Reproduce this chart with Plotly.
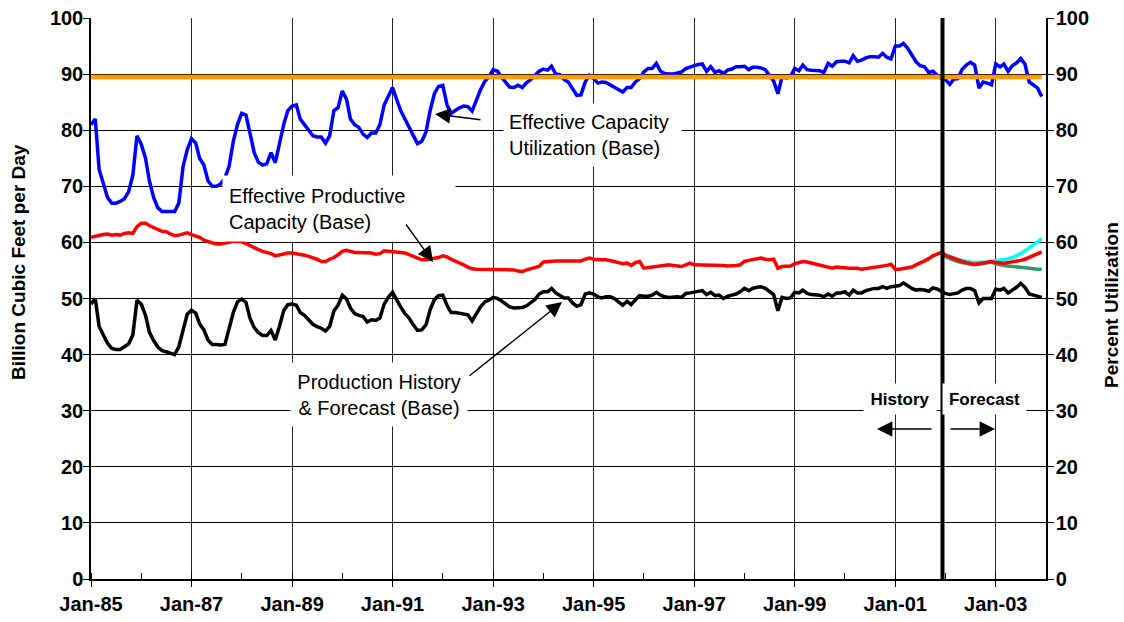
import pandas as pd
import plotly.graph_objects as go

months = pd.date_range("1985-01-01", periods=228, freq="MS")

utilization = [
    81, 82, 73, 70.5, 68, 67, 67, 67.3, 67.8, 69, 72, 79, 77.5, 75, 71, 68, 66.2, 65.5, 65.5, 65.5,
    65.5, 67, 73.5, 76.5, 78.5, 77.7, 75, 73.8, 71, 70, 70, 70.4, 71.5, 73.5, 78, 81, 83, 82.7, 79.5, 76,
    74.3, 73.8, 74, 76, 74.2, 77.5, 81, 83.5, 84.3, 84.5, 82, 81, 80, 79, 78.8, 78.8, 77.7, 79, 83.5, 84,
    87, 85.5, 82, 81, 80.5, 79.3, 78.7, 79.5, 79.5, 81, 84.5, 86, 87.6, 85.4, 83.5, 82, 80.5, 79, 77.6, 78,
    79.7, 83.5, 86.5, 87.8, 88, 84.5, 83, 83.5, 84, 84.3, 84.2, 83.4, 85.5, 87.2, 88.7, 89.5, 90.8, 90.5, 89.5, 88.5,
    87.7, 87.6, 88, 87.6, 88.5, 89, 89.8, 90.5, 90.9, 90.7, 91.4, 90, 89.9, 89, 88.6, 87.5, 86.2, 86.3, 88.6, 89.8,
    89.2, 88.4, 88.6, 88.5, 88.1, 87.7, 87.2, 86.8, 87.6, 87.6, 88.6, 89.2, 90.4, 91, 91, 91.9, 90.5, 90.1, 90, 90,
    90.2, 90.4, 91, 91.3, 91.5, 91.7, 91.8, 90.5, 91.3, 90.3, 90.6, 90.1, 90.7, 90.9, 91.3, 91.3, 91.4, 90.8, 91.2, 91.2,
    91.1, 90.8, 89.9, 88.8, 86.5, 89.5, 89.3, 89.5, 91, 90.6, 91.6, 90.8, 90.7, 90.7, 90.6, 90.3, 91.9, 91.4, 92.2, 92.3,
    92.3, 92, 93.3, 92.3, 92.5, 92.9, 93.1, 93.1, 93, 93.7, 93, 92.7, 95, 95, 95.5, 94.6, 93.4, 92.2, 91.5, 91.3,
    90.3, 90.5, 89.8, 89.2, 89, 88.2, 89.1, 89.2, 90.8, 91.6, 92.1, 91.6, 87.5, 88.6, 88.4, 88.1, 91.8, 91.3, 91.8, 90.5,
    91.5, 92, 92.8, 91.8, 88.6, 88, 87.5, 86,
]

target_utilization = [89.5] * 228

capacity = [
    60.9, 61.1, 61.3, 61.4, 61.5, 61.3, 61.4, 61.3, 61.6, 61.7, 61.6, 62.8, 63.4, 63.4, 63, 62.6, 62.3, 62, 61.9, 61.5,
    61.2, 61.3, 61.5, 61.7, 61.4, 61.2, 60.9, 60.4, 60.2, 60, 59.7, 59.7, 59.8, 60, 60.2, 60.2, 60.1, 59.8, 59.4, 59,
    58.7, 58.4, 58.2, 58, 57.6, 57.8, 57.9, 58.1, 58.1, 58, 57.9, 57.7, 57.5, 57.3, 57, 56.6, 56.6, 57, 57.3, 57.8,
    58.4, 58.6, 58.4, 58.2, 58.2, 58.2, 58.1, 58.1, 57.9, 58, 58.5, 58.4, 58.3, 58.3, 58.2, 58.1, 57.8, 57.5, 57.1, 56.9,
    56.9, 57, 57.1, 57.3, 57.6, 57.4, 57, 56.7, 56.4, 56, 55.6, 55.3, 55.2, 55.2, 55.2, 55.2, 55.2, 55.2, 55.2, 55.2,
    55.2, 55.1, 54.9, 54.8, 55.1, 55.3, 55.4, 55.7, 56.5, 56.6, 56.7, 56.7, 56.7, 56.7, 56.7, 56.6, 56.6, 56.7, 57, 57.2,
    57, 56.9, 56.9, 56.9, 56.8, 56.6, 56.4, 56.2, 56.3, 55.9, 56.4, 56.6, 55.4, 55.5, 55.6, 55.7, 55.8, 55.9, 56, 55.9,
    55.8, 55.7, 56, 56.3, 56, 56, 56, 56, 56, 56, 55.9, 55.9, 55.8, 55.8, 55.9, 56, 56.6, 56.8, 56.9, 57,
    57.2, 57, 56.9, 57, 55.4, 55.7, 55.8, 55.8, 56.2, 56.4, 56.6, 56.5, 56.3, 56.1, 56, 55.7, 55.5, 55.4, 55.6, 55.5,
    55.4, 55.4, 55.4, 55.4, 55.2, 55.3, 55.5, 55.6, 55.7, 55.8, 55.9, 56.1, 55.2, 55.2, 55.3, 55.4, 55.6, 56, 56.3, 56.7,
    57.1, 57.6, 57.9, 58.2, 57.7, 57.4, 57.1, 56.9, 56.6, 56.4, 56.3, 56.1, 56.2, 56.3, 56.4, 56.6, 56.4, 56.3, 56.3, 56.4,
    56.5, 56.6, 56.8, 57, 57.3, 57.6, 57.9, 58.3,
]

production = [
    49, 50, 45, 43.4, 42, 41.1, 40.9, 40.9, 41.4, 41.9, 43.5, 49.7, 49, 47, 44, 42.5, 41.4, 40.7, 40.5, 40.3,
    40, 41.4, 44.4, 47.2, 47.9, 47.4, 45.5, 44.4, 42.6, 41.8, 41.8, 41.7, 41.8, 44.8, 47.5, 49.4, 49.9, 49.3, 46.5, 44.8,
    43.9, 43.4, 43.4, 44.3, 42.6, 45, 47.8, 48.9, 49, 48.8, 47.5, 47, 46.3, 45.4, 45, 44.7, 44.2, 45, 47.8, 48.8,
    50.6, 49.9, 48.3, 47.3, 47, 46.8, 45.8, 46.2, 46.1, 46.5, 49, 50.2, 51.1, 49.6, 48.5, 47.3, 46.5, 45.3, 44.3, 44.4,
    45.3, 48, 49.8, 50.5, 50.6, 48.8, 47.5, 47.5, 47.4, 47.3, 47.1, 46, 47.3, 48.5, 49.4, 49.7, 50.2, 50, 49.6, 49,
    48.5, 48.3, 48.3, 48.4, 48.7, 49.2, 49.8, 50.8, 51.2, 51.2, 51.8, 51, 50.6, 50.1, 50.1, 49.2, 48.6, 48.9, 50.8, 51,
    50.8, 50.3, 50.1, 50.3, 50.3, 50, 49.4, 48.8, 49.5, 48.9, 49.8, 50.5, 50.4, 50.4, 50.6, 51.1, 50.6, 50.3, 50.2, 50.3,
    50.3, 50.2, 50.9, 51, 51.1, 51.2, 51.4, 50.7, 51.1, 50.5, 50.6, 50, 50.4, 50.6, 50.8, 51.2, 51.8, 51.4, 51.8, 52,
    52.1, 51.8, 51.3, 50.7, 47.8, 50.2, 50, 50.1, 51.1, 51, 51.5, 50.9, 50.7, 50.6, 50.6, 50.3, 50.8, 50.4, 51, 51,
    51.2, 50.6, 51.5, 51, 51, 51.4, 51.6, 51.8, 51.8, 52.1, 51.8, 52.1, 52.2, 52.3, 52.8, 52.3, 51.8, 51.5, 51.6, 51.5,
    51.3, 51.9, 51.7, 51.3, 50.9, 50.7, 50.9, 51, 51.5, 51.8, 51.8, 51.4, 49.2, 50, 50, 50, 51.7, 51.5, 51.8, 51,
    51.5, 52, 52.7, 52, 50.8, 50.6, 50.5, 50.2,
]

# forecast scenarios start Dec-01 (index 203)
high_capacity = [None] * 203 + [
    58.3, 57.8, 57.5, 57.2, 57, 56.8, 56.6, 56.5, 56.4, 56.4, 56.5, 56.5, 56.6, 56.7, 56.8, 56.9, 57.1, 57.3, 57.6, 58,
    58.5, 59, 59.6, 60.1, 60.7,
]
low_capacity = [None] * 203 + [
    58.1, 57.5, 57.1, 56.8, 56.6, 56.4, 56.2, 56.1, 56, 56.1, 56.2, 56.3, 56.5, 56.2, 56, 55.9, 55.8, 55.7, 55.6, 55.5,
    55.4, 55.3, 55.3, 55.2, 55.2,
]

divider_date = "2001-12-10"

FONT = "Arial, Liberation Sans, sans-serif"

fig = go.Figure()
fig.add_trace(go.Scatter(x=months, y=utilization, yaxis="y2", mode="lines",
                         line=dict(color="#0000FF", width=3.5), name="Utilization"))
fig.add_trace(go.Scatter(x=months, y=target_utilization, yaxis="y2", mode="lines",
                         line=dict(color="#FF9900", width=4.5), name="Target"))
fig.add_trace(go.Scatter(x=months, y=high_capacity, mode="lines",
                         line=dict(color="#00FFFF", width=3.5), name="High"))
fig.add_trace(go.Scatter(x=months, y=low_capacity, mode="lines",
                         line=dict(color="#339966", width=3.5), name="Low"))
fig.add_trace(go.Scatter(x=months, y=capacity, mode="lines",
                         line=dict(color="#FF0000", width=3.5), name="Capacity"))
fig.add_trace(go.Scatter(x=months, y=production, mode="lines",
                         line=dict(color="#000000", width=3.5), name="Production"))

fig.add_shape(type="line", xref="x", yref="y", x0=divider_date, x1=divider_date, y0=0, y1=100,
              line=dict(color="black", width=4), layer="above")

# plot area spans page x 91..1046, y 18..579
def px_x(p):
    return (p - 91) / 955.0

def px_y(p):
    return (579 - p) / 561.0

ann = []
# text boxes
ann.append(dict(text="Effective Productive<br>Capacity (Base)", xref="paper", yref="paper",
                x=px_x(222), y=px_y(175), xanchor="left", yanchor="top", showarrow=False,
                align="left", valign="middle", width=220, height=53, borderpad=6, bgcolor="white",
                font=dict(family=FONT, size=20, color="black")))
ann.append(dict(text="Effective Capacity<br>Utilization (Base)", xref="paper", yref="paper",
                x=px_x(503), y=px_y(103), xanchor="left", yanchor="top", showarrow=False,
                align="left", valign="middle", width=167, height=52, borderpad=5, bgcolor="white",
                font=dict(family=FONT, size=20, color="black")))
ann.append(dict(text="Production History<br>& Forecast (Base)", xref="paper", yref="paper",
                x=px_x(290), y=px_y(362), xanchor="left", yanchor="top", showarrow=False,
                align="center", valign="middle", width=168, height=55, borderpad=4, bgcolor="white",
                font=dict(family=FONT, size=20, color="black")))
ann.append(dict(text="<b>History</b>", xref="paper", yref="paper",
                x=px_x(863), y=px_y(383), xanchor="left", yanchor="top", showarrow=False,
                align="center", valign="middle", width=68, height=26, borderpad=2, bgcolor="white",
                font=dict(family=FONT, size=17, color="black")))
ann.append(dict(text="<b>Forecast</b>", xref="paper", yref="paper",
                x=px_x(942), y=px_y(383), xanchor="left", yanchor="top", showarrow=False,
                align="center", valign="middle", width=79, height=26, borderpad=2, bgcolor="white",
                font=dict(family=FONT, size=17, color="black")))
# arrows
for tip, off in [((435, 114), (47, 6)), ((433, 262), (-28, -39)), ((562, 302), (-94, 75)),
                 ((877, 429), (56, 0)), ((995, 429), (-46, 0))]:
    ann.append(dict(text="", xref="paper", yref="paper", x=px_x(tip[0]), y=px_y(tip[1]),
                    ax=off[0], ay=off[1], showarrow=True, arrowhead=2, arrowsize=2.2,
                    arrowwidth=1.4, arrowcolor="black", standoff=0))
# axis titles
ann.append(dict(text="<b>Billion Cubic Feet per Day</b>", xref="paper", yref="paper",
                x=px_x(18), y=px_y(262), xanchor="center", yanchor="middle", textangle=-90,
                showarrow=False, font=dict(family=FONT, size=19, color="black")))
ann.append(dict(text="<b>Percent Utilization</b>", xref="paper", yref="paper",
                x=px_x(1111), y=px_y(305), xanchor="center", yanchor="middle", textangle=-90,
                showarrow=False, font=dict(family=FONT, size=19, color="black")))

fig.update_layout(
    width=1124, height=622,
    margin=dict(l=91, r=78, t=18, b=43, autoexpand=False),
    paper_bgcolor="white", plot_bgcolor="white",
    showlegend=False,
    font=dict(family=FONT, color="black"),
    annotations=ann,
    xaxis=dict(
        type="date", range=["1985-01-01", "2004-01-01"], automargin=False,
        tick0="1985-01-01", dtick="M24", tickformat="%b-%y", ticklabeloverflow="allow",
        ticks="outside", ticklen=6, tickcolor="black", tickwidth=1,
        showgrid=True, gridcolor="#222222", gridwidth=1,
        showline=True, linecolor="black", linewidth=1.5,
        tickfont=dict(family=FONT, size=20, color="black", weight="bold"),
        minor=dict(dtick="M12", ticks="inside", ticklen=6, tickcolor="black", showgrid=False),
        zeroline=False,
    ),
    yaxis=dict(
        range=[0, 100], dtick=10, ticks="outside", ticklen=6, tickcolor="black", automargin=False,
        showgrid=True, gridcolor="black", gridwidth=1, ticklabeloverflow="allow",
        ticklabelstandoff=-4,
        showline=True, linecolor="black", linewidth=1.5, zeroline=False,
        tickfont=dict(family=FONT, size=20, color="black", weight="bold"),
    ),
    yaxis2=dict(
        range=[0, 100], dtick=10, ticks="outside", ticklen=6, tickcolor="black", automargin=False,
        overlaying="y", side="right", showgrid=False, ticklabeloverflow="allow",
        ticklabelstandoff=-2,
        showline=True, linecolor="black", linewidth=1.5, zeroline=False,
        tickfont=dict(family=FONT, size=20, color="black", weight="bold"),
    ),
)

# remove the default 8px page margin so the figure fills the window exactly
fig.write_html("out.html", config={"displayModeBar": False},
               post_script="document.body.style.margin='0px';")
